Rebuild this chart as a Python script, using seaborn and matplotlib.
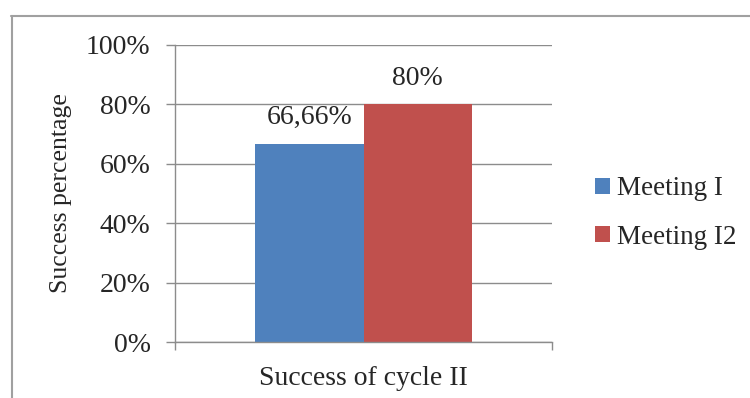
import matplotlib
matplotlib.use("Agg")
import matplotlib.pyplot as plt
import matplotlib.ticker as mticker
from matplotlib.lines import Line2D
import pandas as pd
import seaborn as sns

categories = ["Success of cycle II"]
series = ["Meeting I", "Meeting I2"]
values = [66.66, 80.0]
value_labels = ["66,66%", "80%"]
colors = ["#4F81BD", "#C0504D"]

df = pd.DataFrame({
    "category": categories * len(series),
    "series": series,
    "value": values,
})

sns.set_theme(style="white")
plt.rcParams["font.family"] = ["Liberation Serif", "DejaVu Serif"]
grid_color = "#8C8C8C"
fs = 20

fig = plt.figure(figsize=(7.5, 3.98), dpi=100)
ax = fig.add_axes([175 / 750, 1 - 342 / 398, 377 / 750, 297 / 398])

sns.barplot(data=df, x="category", y="value", hue="series",
            palette=colors, width=0.573, gap=0, saturation=1,
            edgecolor="none", linewidth=0, ax=ax, legend=True)

for container, lab in zip(ax.containers, value_labels):
    ax.bar_label(container, labels=[lab], padding=10, fontsize=fs)

ax.set_xlim(-0.5, 0.5)
ax.set_ylim(0, 100)
ax.yaxis.set_major_locator(mticker.MultipleLocator(20))
ax.yaxis.set_major_formatter(mticker.FuncFormatter(lambda v, p: f"{v:.0f}%"))
ax.grid(axis="y", color=grid_color, linewidth=1.0)
ax.set_axisbelow(True)

for s in ["top", "right"]:
    ax.spines[s].set_visible(False)
for s in ["left", "bottom"]:
    ax.spines[s].set_color(grid_color)
    ax.spines[s].set_linewidth(1.0)

ax.tick_params(axis="y", which="major", length=6.5, width=1.0, color=grid_color,
               direction="out", pad=11, labelsize=fs, left=True)
ax.tick_params(axis="x", which="major", length=0, pad=17, labelsize=fs)
ax.set_xticks([-0.5, 0.5], minor=True)
ax.tick_params(axis="x", which="minor", length=6, width=1.0, color=grid_color,
               direction="out", bottom=True)

ax.set_xlabel("")
ax.set_ylabel("Success percentage", fontsize=fs - 1.5, labelpad=10)

handles, labels = ax.get_legend_handles_labels()
ax.legend(handles, labels, loc="center left",
          bbox_to_anchor=(595 / 750, 1 - 213 / 398), bbox_transform=fig.transFigure,
          frameon=False, fontsize=fs - 0.5, borderpad=0, borderaxespad=0,
          handlelength=0.55, handleheight=0.55, handletextpad=0.25,
          labelspacing=0.85)

fig.add_artist(Line2D([11 / 750, 1.0], [1 - 15.5 / 398, 1 - 15.5 / 398],
                      transform=fig.transFigure, color="#A0A0A0", linewidth=1.5))
fig.add_artist(Line2D([11.5 / 750, 11.5 / 750], [0, 1 - 15.5 / 398],
                      transform=fig.transFigure, color="#A0A0A0", linewidth=1.5))

fig.savefig("out.png", dpi=100)
